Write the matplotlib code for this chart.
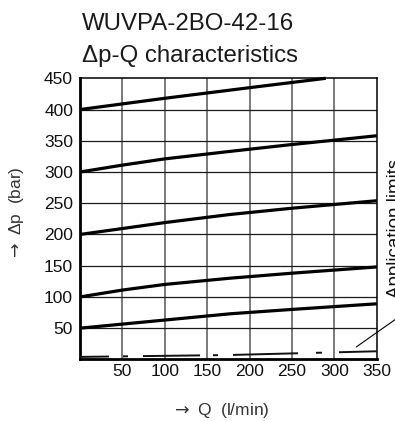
import matplotlib
matplotlib.use("Agg")
import matplotlib.pyplot as plt

plt.rcParams['font.family'] = ['Liberation Sans', 'DejaVu Sans']
plt.rcParams['lines.scale_dashes'] = False
plt.rcParams['mathtext.fontset'] = 'dejavusans'

# Data (Q in l/min, dp in bar)
q_400 = [0, 100, 200, 290]
dp_400 = [400, 418, 435, 450]
q_300 = [0, 50, 100, 177, 250, 350]
dp_300 = [300, 311, 321, 333, 344, 358]
q_200 = [0, 100, 177, 250, 350]
dp_200 = [200, 219, 232, 242, 254]
q_100 = [0, 50, 100, 177, 250, 350]
dp_100 = [100, 111, 120, 130, 138, 148]
q_50 = [0, 100, 177, 250, 350]
dp_50 = [50, 63, 73, 80, 89]
q_limit = [0, 175, 350]
dp_limit = [4, 7, 13]

x_ticks = [50, 100, 150, 200, 250, 300, 350]
y_ticks = [50, 100, 150, 200, 250, 300, 350, 400, 450]

title_1 = "WUVPA-2BO-42-16"
title_2 = "\u0394p-Q characteristics"
x_label = r"$\rightarrow$ Q  (l/min)"
y_label = r"$\rightarrow$ \u0394p  (bar)".replace(r"\u0394", "\u0394")
limit_label = "Application limits"

W, H = 395, 421
fig = plt.figure(figsize=(W / 100, H / 100), dpi=100)
ax = fig.add_axes([80 / W, 1 - 359.4 / H, (376.7 - 80) / W, (359.4 - 78.3) / H])

ax.set_xlim(0, 350)
ax.set_ylim(0, 450)
ax.set_xticks(x_ticks)
ax.set_yticks(y_ticks)
ax.tick_params(length=0, labelsize=12.5, colors='#111111')
ax.tick_params(axis='x', pad=3.5)
ax.tick_params(axis='y', pad=5)

for x in x_ticks[:-1]:
    ax.axvline(x, color='#707070', lw=1.3, zorder=1)
for y in y_ticks[:-1]:
    ax.axhline(y, color='#1a1a1a', lw=0.9, zorder=1)

for s in ['left', 'bottom']:
    ax.spines[s].set_linewidth(2.0)
for s in ['top', 'right']:
    ax.spines[s].set_linewidth(1.1)

for qx, dy in [(q_400, dp_400), (q_300, dp_300), (q_200, dp_200),
               (q_100, dp_100), (q_50, dp_50)]:
    ax.plot(qx, dy, color='black', lw=2.3, solid_capstyle='butt', zorder=3, clip_on=False)

px = 0.72
dash_seq = [v * px for v in (29, 14, 5, 15, 57, 13, 5, 15, 65, 18, 6, 17, 60, 10)]
ax.plot(q_limit, dp_limit, color='#111111', lw=1.4, linestyle=(0, dash_seq), zorder=3)

# leader line to "Application limits"
ax.annotate('', xy=(326, 20), xytext=(372, 64), xycoords='data', textcoords='data',
            arrowprops=dict(arrowstyle='-', color='black', lw=0.8, shrinkA=0, shrinkB=0),
            annotation_clip=False)

fig.text(386.5 / W, 1 - 298 / H, limit_label, rotation=90, ha='left', va='bottom',
         fontsize=13.5, color='#111111')

fig.text(82 / W, 1 - 30 / H, title_1, ha='left', va='baseline', fontsize=17.3, color='#1a1a1a')
fig.text(82 / W, 1 - 61.7 / H, title_2, ha='left', va='baseline', fontsize=17.3, color='#1a1a1a')

fig.text(220.5 / W, 1 - 415 / H, x_label, ha='center', va='baseline', fontsize=12.5, color='#333333')
fig.text(26 / W, 1 - 214 / H, y_label, rotation=90, ha='right', va='center', fontsize=12.5, color='#333333')

fig.savefig('out.png', dpi=100)
